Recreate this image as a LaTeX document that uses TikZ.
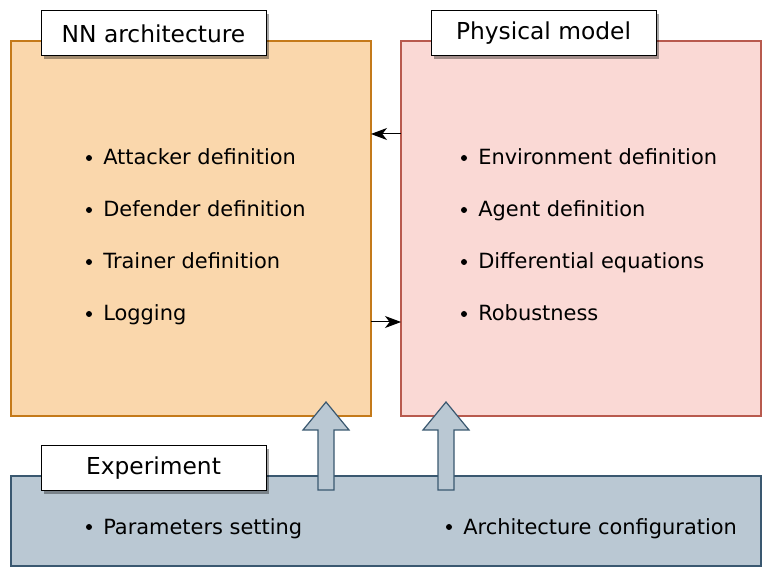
\documentclass[tikz,border=0pt]{standalone}
\usepackage{fontspec}
\setmainfont{DejaVu Sans}
\usetikzlibrary{arrows.meta,shadows}
\definecolor{nnfill}{HTML}{FAD7AC}
\definecolor{nnline}{HTML}{C47A1A}
\definecolor{phfill}{HTML}{FAD9D5}
\definecolor{phline}{HTML}{B85A4E}
\definecolor{exfill}{HTML}{BAC8D3}
\definecolor{exline}{HTML}{3A5870}
\tikzset{
  bigbox/.style={draw, line width=0.8pt, minimum width=270pt, inner sep=0pt, outer sep=0pt},
  titlebox/.style={draw=black, fill=white, line width=0.75pt, minimum width=168.75pt, minimum height=33.75pt, inner sep=0pt,
    drop shadow={shadow xshift=2.25pt, shadow yshift=-2.25pt, fill=black, opacity=0.35}, font=\fontsize{17.5}{20}\selectfont},
  itemtext/.style={anchor=base west, inner sep=0pt, font=\fontsize{15.7}{18}\selectfont},
  arr/.style={-{Stealth[length=12pt,width=9pt,inset=3.5pt]}, line width=0.75pt},
  blockarrow/.style={fill=exfill, draw=exline, line width=0.9pt, line join=miter},
}
\begin{document}
\begin{tikzpicture}[x=0.75pt,y=-0.75pt]
\useasboundingbox[fill=white] (0,0) rectangle (772,577);
% main boxes
\node[bigbox, fill=nnfill, draw=nnline, minimum height=281.25pt] (nn) at (191,228.5) {};
\node[bigbox, fill=phfill, draw=phline, minimum height=281.25pt] (ph) at (581,228.5) {};
\node[bigbox, fill=exfill, draw=exline, minimum width=562.5pt, minimum height=67.5pt] (ex) at (386,521) {};
% connectors
\coordinate (ya) at (0,134);
\coordinate (yb) at (0,322);
\draw[arr] (ph.west |- ya) -- (nn.east |- ya);
\draw[arr] (nn.east |- yb) -- (ph.west |- yb);
% block arrows
\draw[blockarrow] (318,490) -- (318,430) -- (303,430) -- (326,402) -- (349,430) -- (334,430) -- (334,490) -- cycle;
\draw[blockarrow] (438,490) -- (438,430) -- (423,430) -- (446,402) -- (469,430) -- (454,430) -- (454,490) -- cycle;
% titles
\node[titlebox] (tnn) at (153.5,33.5) {NN architecture};
\node[titlebox] (tph) at (543.5,33.5) {Physical model};
\node[titlebox] (tex) at (153.5,468.5) {Experiment};
% NN items
\foreach \t [count=\i from 0] in {Attacker definition, Defender definition, Trainer definition, Logging} {
  \fill (89,158+52*\i) circle (3);
  \node[itemtext] (nni\i) at (103,165+52*\i) {\t};
}
% physical items
\foreach \t [count=\i from 0] in {Environment definition, Agent definition, Differential equations, Robustness} {
  \fill (464,158+52*\i) circle (3);
  \node[itemtext] (phi\i) at (478,165+52*\i) {\t};
}
% experiment items
\fill (89,527) circle (3);
\node[itemtext] (exi0) at (103,534) {Parameters setting};
\fill (449,527) circle (3);
\node[itemtext] (exi1) at (463,534) {Architecture configuration};
\end{tikzpicture}
\end{document}
